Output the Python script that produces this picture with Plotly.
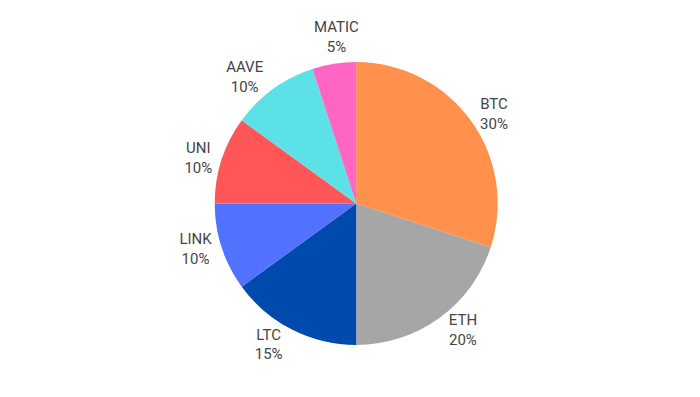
import math
import plotly.graph_objects as go

labels = ["BTC", "ETH", "LTC", "LINK", "UNI", "AAVE", "MATIC"]
values = [30, 20, 15, 10, 10, 10, 5]
colors = ["#FF914D", "#A6A6A6", "#004AAD", "#5271FF", "#FF5757", "#5CE1E6", "#FF66C4"]

W, H = 700, 397
M = dict(l=0, r=0, t=62, b=52)
DOM_X = [0, 0.8]
CY, R = 203, 141

total = sum(values)
pos = ["outside"] * len(labels)
pos[-1] = "none"

fig = go.Figure(go.Pie(
    labels=labels,
    values=values,
    sort=False,
    direction="clockwise",
    rotation=0,
    marker=dict(colors=colors, line=dict(width=0)),
    textinfo="label+percent",
    textposition=pos,
    textfont=dict(size=15, color="#444", family="Roboto"),
    showlegend=False,
    domain=dict(x=DOM_X, y=[0, 1]),
))

# MATIC label placed radially outside its slice, relative to the pie domain
cum = sum(values[:-1]) + values[-1] / 2
ang = 2 * math.pi * cum / total
dx = (R + 12) * math.sin(ang)
py = CY - (R + 6) * math.cos(ang)
fig.add_annotation(
    text=f"{labels[-1]}<br>{round(100 * values[-1] / total)}%",
    x=(DOM_X[0] + DOM_X[1]) / 2 + dx / (W - M["l"] - M["r"]),
    y=(H - M["b"] - py) / (H - M["t"] - M["b"]),
    xref="paper", yref="paper",
    xanchor="center", yanchor="bottom", showarrow=False,
    font=dict(size=15, color="#444", family="Roboto"),
)
fig.update_layout(
    width=W, height=H,
    margin=M,
    paper_bgcolor="white",
)
fig.write_html("out.html")
